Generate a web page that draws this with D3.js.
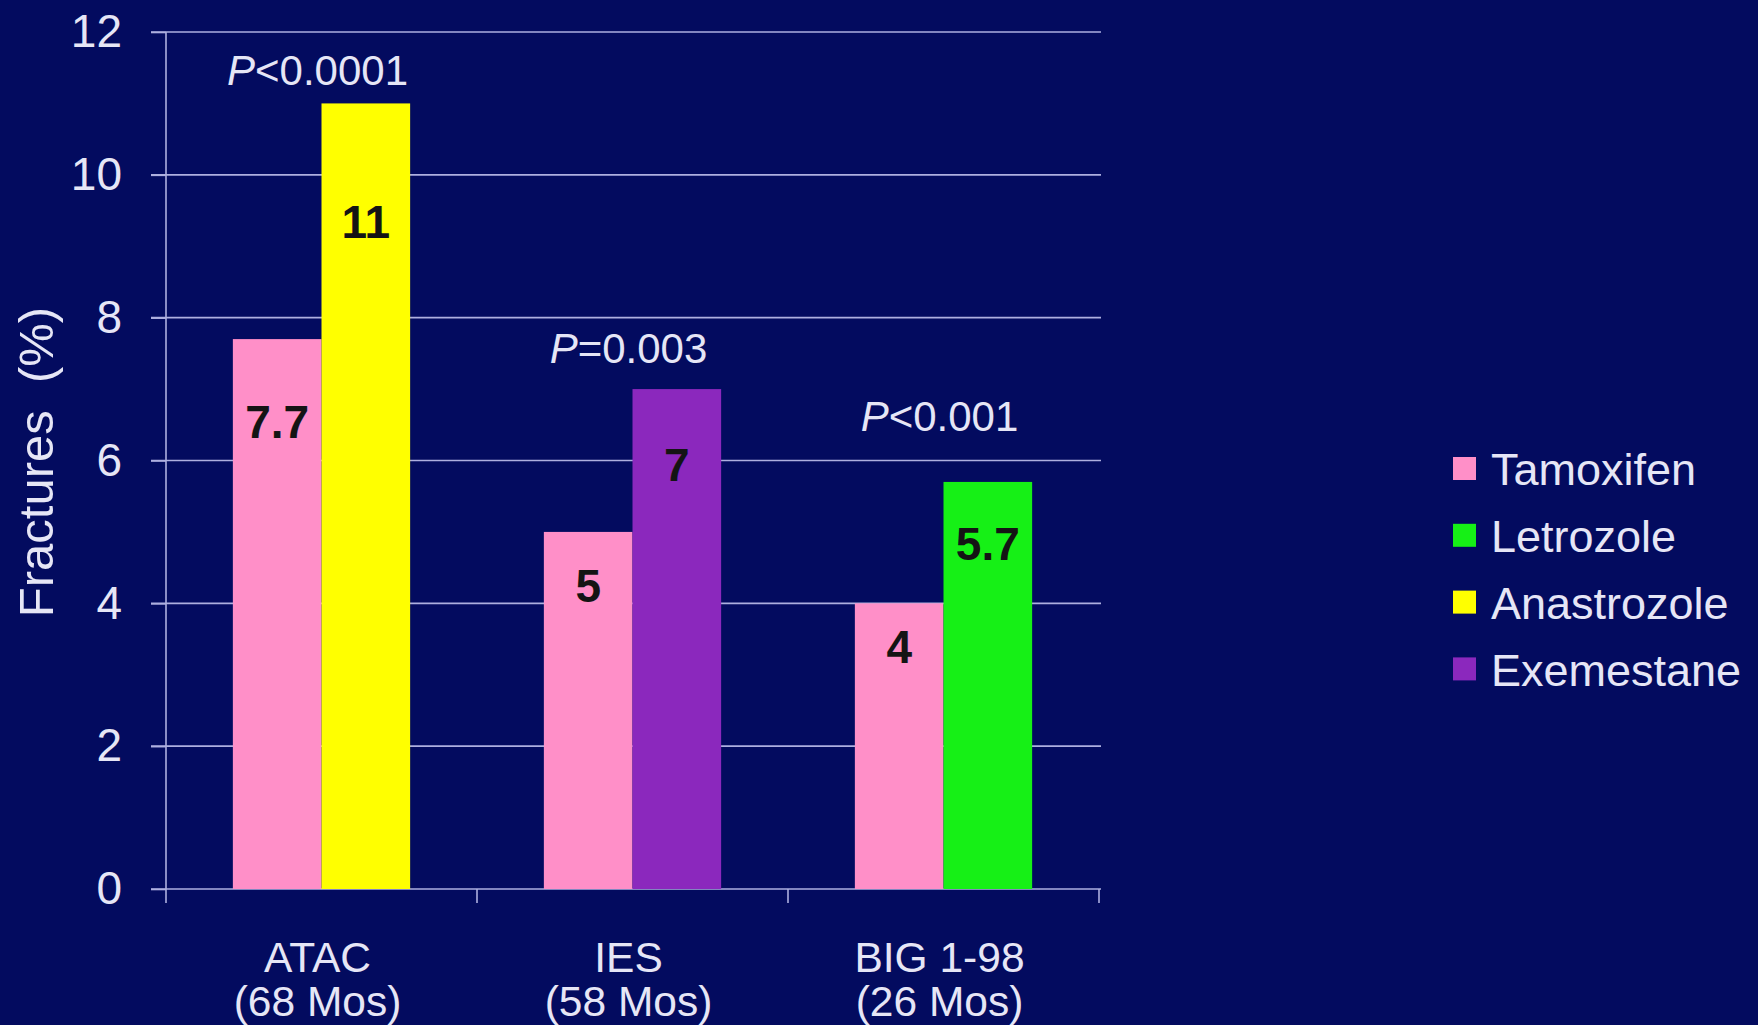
<!DOCTYPE html>
<html>
<head>
<meta charset="utf-8">
<script src="https://cdn.jsdelivr.net/npm/d3@7"></script>
<style>
  html, body { margin: 0; padding: 0; background: #030b5f; }
  svg { display: block; }
  text { font-family: "Liberation Sans", Arial, Helvetica, sans-serif; }
</style>
</head>
<body>
<svg id="chart" width="1758" height="1025"></svg>
<script>
// Fracture rates by trial: tamoxifen vs. aromatase inhibitor
const trials = ["ATAC", "IES", "BIG 1-98"];
const followUp = ["(68 Mos)", "(58 Mos)", "(26 Mos)"];
const tamoxifen = [7.7, 5, 4];
const comparatorDrug = ["Anastrozole", "Exemestane", "Letrozole"];
const comparator = [11, 7, 5.7];
const pSign = ["<", "=", "<"];
const pValue = ["0.0001", "0.003", "0.001"];
const pLevel = [11.26, 7.36, 6.42];          // height (in %) of each P-value annotation
const legendSeries = ["Tamoxifen", "Letrozole", "Anastrozole", "Exemestane"];
const yTicks = [0, 2, 4, 6, 8, 10, 12];

const colors = {
  Tamoxifen: "#ff8fc8",
  Letrozole: "#16f016",
  Anastrozole: "#ffff00",
  Exemestane: "#8b28bd"
};
const ink = "#e6e6f6";
const gridColor = "#aeb0e0";

const W = 1758, H = 1025;
const plot = { left: 166, right: 1099, top: 32, bottom: 889 };

const svg = d3.select("#chart");
svg.append("rect").attr("width", W).attr("height", H).attr("fill", "#030b5f");

const y = d3.scaleLinear().domain([0, 12]).range([plot.bottom, plot.top]);
const x = d3.scaleBand().domain(trials).range([plot.left, plot.right]).padding(0);
const bw = x.bandwidth();
const groupShare = 0.57;
const xSub = d3.scaleBand().domain([0, 1])
  .range([bw * (1 - groupShare) / 2, bw * (1 + groupShare) / 2]).padding(0);

// horizontal gridlines (including the left tick stubs)
svg.append("g").selectAll("line").data(yTicks).join("line")
  .attr("x1", plot.left - 15).attr("x2", plot.right + 2)
  .attr("y1", d => y(d)).attr("y2", d => y(d))
  .attr("stroke", gridColor).attr("stroke-width", 1.6);

// y axis
const yAxis = svg.append("g").attr("transform", `translate(${plot.left},0)`)
  .call(d3.axisLeft(y).tickValues(yTicks).tickSize(15).tickPadding(29).tickFormat(d3.format("d")));
yAxis.select(".domain").remove();
yAxis.selectAll(".tick line").attr("stroke", gridColor).attr("stroke-width", 1.6);
yAxis.selectAll(".tick text").attr("fill", ink).attr("font-size", 46)
  .style("font-family", '"Liberation Sans", Arial, sans-serif');
svg.append("line")
  .attr("x1", plot.left).attr("x2", plot.left)
  .attr("y1", y(12)).attr("y2", y(0) + 14)
  .attr("stroke", gridColor).attr("stroke-width", 1.6);

// x axis category separators
const bounds = trials.map(t => x(t)).concat([plot.right]);
svg.append("g").selectAll("line").data(bounds.slice(1)).join("line")
  .attr("x1", d => d).attr("x2", d => d)
  .attr("y1", y(0)).attr("y2", y(0) + 14)
  .attr("stroke", gridColor).attr("stroke-width", 1.6);

// bars
const rows = trials.map((t, i) => ({
  trial: t,
  bars: [
    { k: 0, name: "Tamoxifen", value: tamoxifen[i] },
    { k: 1, name: comparatorDrug[i], value: comparator[i] }
  ]
}));

const groups = svg.append("g").selectAll("g").data(rows).join("g")
  .attr("transform", d => `translate(${x(d.trial)},0)`);

groups.selectAll("rect").data(d => d.bars).join("rect")
  .attr("x", d => xSub(d.k))
  .attr("width", xSub.bandwidth())
  .attr("y", d => y(d.value))
  .attr("height", d => y(0) - y(d.value))
  .attr("fill", d => colors[d.name]);

groups.selectAll("text.val").data(d => d.bars).join("text")
  .attr("class", "val")
  .attr("x", d => xSub(d.k) + xSub.bandwidth() / 2)
  .attr("y", d => y(d.value * 0.85))
  .attr("dy", "0.36em")
  .attr("text-anchor", "middle")
  .attr("font-size", 46).attr("font-weight", "bold")
  .attr("fill", "#141414")
  .text(d => d.value);

// P-value annotations
const pText = svg.append("g").selectAll("text").data(trials).join("text")
  .attr("x", d => x(d) + bw / 2 - 4)
  .attr("y", (d, i) => y(pLevel[i]))
  .attr("text-anchor", "middle")
  .attr("font-size", 42)
  .attr("fill", ink);
pText.append("tspan").attr("font-style", "italic").text("P");
pText.append("tspan").text((d, i) => pSign[i] + pValue[i]);

// category labels, two lines each
const cat = svg.append("g").selectAll("text").data(trials).join("text")
  .attr("text-anchor", "middle")
  .attr("font-size", 42.5)
  .attr("fill", ink);
cat.append("tspan").attr("x", d => x(d) + bw / 2 - 4).attr("y", 972).text(d => d);
cat.append("tspan").attr("x", d => x(d) + bw / 2 - 4).attr("y", 1016).text((d, i) => followUp[i]);

// y axis title
svg.append("text")
  .attr("transform", `translate(53,462) rotate(-90)`)
  .attr("text-anchor", "middle")
  .attr("font-size", 49)
  .attr("fill", ink)
  .attr("xml:space", "preserve")
  .text("Fractures  (%)");

// legend
const legend = svg.append("g").attr("transform", "translate(1453,469)");
const item = legend.selectAll("g").data(legendSeries).join("g")
  .attr("transform", (d, i) => `translate(0,${i * 66.8})`);
item.append("rect")
  .attr("x", 0).attr("y", -12).attr("width", 23).attr("height", 23)
  .attr("fill", d => colors[d]);
item.append("text")
  .attr("x", 38).attr("dy", "0.36em")
  .attr("font-size", 45)
  .attr("fill", ink)
  .text(d => d);
</script>
</body>
</html>
